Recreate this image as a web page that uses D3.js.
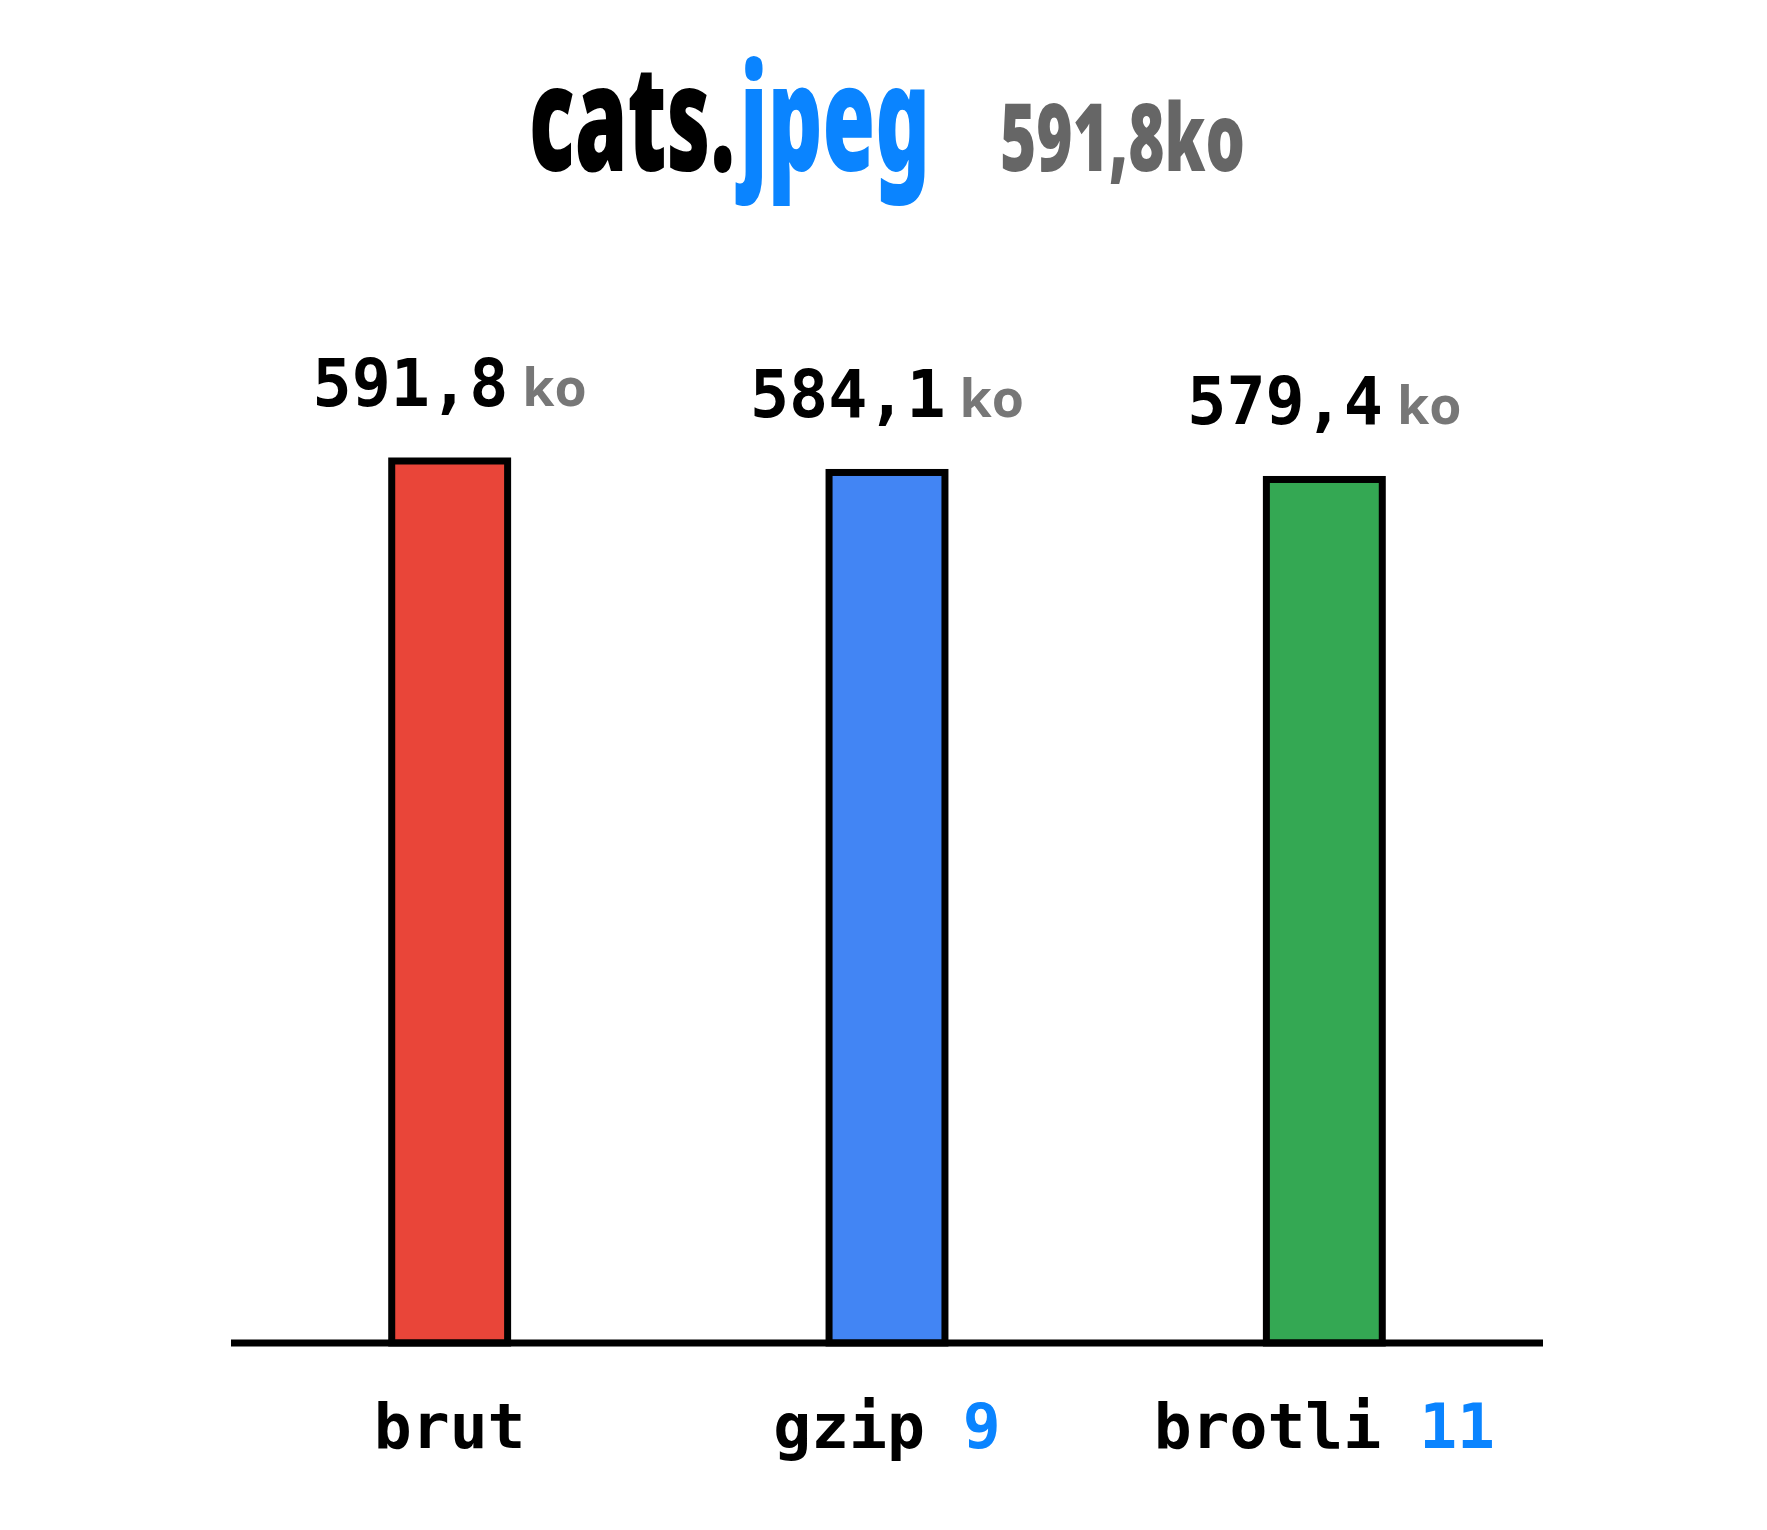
<!DOCTYPE html>
<html>
<head>
<meta charset="utf-8">
<script src="https://cdn.jsdelivr.net/npm/d3@7"></script>
<style>
  html, body { margin: 0; padding: 0; background: #fff; }
  svg { display: block; }
  text { white-space: pre; }
</style>
</head>
<body>
<script>
// ---- data ----
const fileName = "cats";
const fileExt = "jpeg";
const fileSize = 591.8;
const unit = "ko";
const categories = ["brut", "gzip", "brotli"];
const levels = ["", "9", "11"];
const values = [591.8, 584.1, 579.4];
const colors = ["#E94539", "#4285F4", "#34A853"];

const W = 1767, H = 1530;
const fr = d3.formatLocale({decimal: ",", thousands: " ", grouping: [3], currency: ["", " €"]});
const fmt = fr.format(".1f");

const svg = d3.select("body").append("svg").attr("width", W).attr("height", H);

const x = d3.scaleBand().domain(categories).range([231, 1543]).paddingInner(0.735).paddingOuter(0.3675);
const y = d3.scaleLinear().domain([0, d3.max(values)]).range([1343, 461]);

const data = categories.map((c, i) => ({c, level: levels[i], v: values[i], color: colors[i]}));

// title
const condensed = "'Noto Sans', 'Open Sans', sans-serif";
function titleText(tx, ty, size, len, color, str) {
  svg.append("text")
    .attr("x", tx).attr("y", ty)
    .attr("font-family", condensed).attr("font-weight", 900)
    .style("font-stretch", "extra-condensed")
    .attr("font-size", size)
    .attr("fill", color)
    .attr("textLength", len).attr("lengthAdjust", "spacingAndGlyphs")
    .text(str);
}
titleText(529, 171, 148, 206, "#000", fileName + ".");
titleText(740, 171, 148, 190, "#0A84FF", fileExt);
titleText(1000, 171, 94, 245, "#666", fmt(fileSize) + unit);

// bars
svg.append("g").selectAll("rect").data(data).join("rect")
  .attr("x", d => x(d.c))
  .attr("y", d => y(d.v))
  .attr("width", x.bandwidth())
  .attr("height", d => y(0) - y(d.v))
  .attr("fill", d => d.color)
  .attr("stroke", "#000")
  .attr("stroke-width", 7);

// baseline
svg.append("line")
  .attr("x1", 231).attr("x2", 1543)
  .attr("y1", y(0)).attr("y2", y(0))
  .attr("stroke", "#000").attr("stroke-width", 7);

// value labels
const mono = "'DejaVu Sans Mono', 'Liberation Mono', monospace";
const vl = svg.append("g").selectAll("text").data(data).join("text")
  .attr("x", d => x(d.c) + x.bandwidth() / 2)
  .attr("y", d => y(d.v) - 55)
  .attr("text-anchor", "middle");
vl.append("tspan")
  .attr("font-family", mono).attr("font-weight", 700).attr("font-size", 65)
  .attr("fill", "#000")
  .text(d => fmt(d.v));
vl.append("tspan")
  .attr("dx", 14)
  .attr("font-family", "'Open Sans', sans-serif").attr("font-weight", 700).attr("font-size", 52)
  .attr("fill", "#777")
  .text(unit);

// category labels
const cl = svg.append("g").selectAll("text").data(data).join("text")
  .attr("x", d => x(d.c) + x.bandwidth() / 2)
  .attr("y", 1448)
  .attr("text-anchor", "middle")
  .attr("font-family", mono).attr("font-weight", 700).attr("font-size", 63);
cl.append("tspan").attr("fill", "#000").text(d => d.c);
cl.filter(d => d.level).append("tspan").attr("fill", "#0A84FF").text(d => " " + d.level);
</script>
</body>
</html>
